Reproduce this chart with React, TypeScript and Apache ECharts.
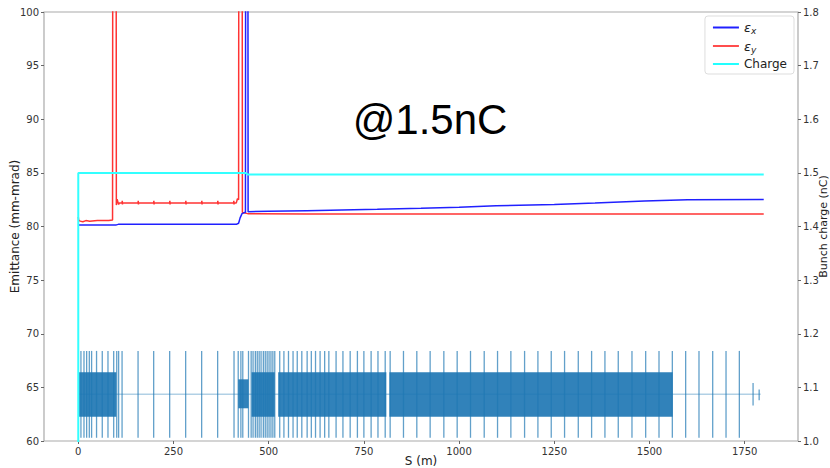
import React, { useEffect, useRef } from "react";
import * as echarts from "echarts";

// ---- data ----
const xTickValues = [0, 250, 500, 750, 1000, 1250, 1500, 1750];

const emitX: [number, number][] = [
  [0, 80.15], [100, 80.15], [105, 80.2], [415, 80.2], [421, 80.3], [425, 80.8],
  [430, 81.2], [436, 81.3], [439, 81.3], [440, 130], [445, 130], [446, 81.38],
  [500, 81.42], [600, 81.48], [785, 81.6], [900, 81.7], [1000, 81.8], [1097, 81.94],
  [1250, 82.05], [1357, 82.19], [1487, 82.38], [1600, 82.5], [1800, 82.52],
];

const emitY: [number, number][] = [
  [0, 80.9], [1, 80.6], [5, 80.5], [12, 80.45], [20, 80.55], [30, 80.5], [50, 80.55],
  [80, 80.55], [90, 80.6], [91, 130], [99, 130], [100, 82.0], [102, 82.55], [104, 82.3],
  [106, 82.05], [108, 82.2],
  [115, 82.2], [115.5, 82.4], [116, 82.05], [116.5, 82.2],
  [157, 82.2], [157.5, 82.4], [158, 82.05], [158.5, 82.2],
  [198, 82.2], [198.5, 82.4], [199, 82.05], [199.5, 82.2],
  [240, 82.2], [240.5, 82.4], [241, 82.05], [241.5, 82.2],
  [282, 82.2], [282.5, 82.4], [283, 82.05], [283.5, 82.2],
  [324, 82.2], [324.5, 82.4], [325, 82.05], [325.5, 82.2],
  [366, 82.2], [366.5, 82.4], [367, 82.05], [367.5, 82.2],
  [408, 82.2], [408.5, 82.4], [409, 82.05], [409.5, 82.2],
  [415, 82.2], [418, 82.6], [421, 82.5], [422, 130], [430, 130], [431, 81.3],
  [445, 81.2], [600, 81.16], [1800, 81.16],
];

const charge: [number, number][] = [
  [0, 0.9], [0, 1.5], [440, 1.5], [444, 1.497], [1800, 1.497],
];

// lattice: quadrupole positions (m), cavity blocks [start, end, low, high]
const quadPositions = [
  7, 15, 22, 29, 35, 48, 63, 78, 93, 101, 106, 115, 157, 198, 240, 282, 324, 366, 409,
  420, 427, 432, 447, 454, 459, 465, 470, 475, 480, 486, 491, 496, 501, 506, 511, 516,
  529, 540, 552, 564, 575, 587, 601, 612, 623, 635, 647, 658, 677, 695, 714, 733, 750,
  769, 787, 806, 819, 854, 889, 924, 960, 995, 1030, 1066, 1101, 1136, 1172, 1207, 1242,
  1277, 1313, 1348, 1383, 1418, 1454, 1490, 1525, 1560, 1595, 1630, 1666, 1701, 1736,
];
const quadLow = 60.3;
const quadHigh = 68.4;
const cavityBlocks: [number, number, number, number][] = [
  [2, 100, 62.27, 66.4],
  [420, 447, 63.05, 65.75],
  [455, 516, 62.27, 66.4],
  [525, 809, 62.27, 66.4],
  [817, 1561, 62.27, 66.4],
];
const endMarks: [number, number, number][] = [
  [1772, 63.3, 65.4],
  [1788, 63.8, 64.8],
];
const baseline: [number, number][] = [[0, 64.35], [1792, 64.35]];

export default function App() {
  const ref = useRef<HTMLDivElement>(null);
  useEffect(() => {
    document.body.style.margin = "0";
    const chart = echarts.init(ref.current!, null, { renderer: "svg" });
    const font = "DejaVu Sans";
    const quadData = quadPositions.map((p) => [p, quadLow, quadHigh]);
    const lineMarks = quadData.concat(endMarks.map((m) => [m[0], m[1], m[2]]));
    chart.setOption({
      animation: false,
      backgroundColor: "#ffffff",
      textStyle: { fontFamily: font },
      grid: {
        left: 44, right: 32, top: 12, bottom: 27,
        containLabel: false, outerBoundsMode: "none",
        show: true, borderColor: "#aaaaaa", borderWidth: 1.2,
      },
      legend: {
        data: ["εx", "εy", "Charge"],
        orient: "vertical",
        right: 36, top: 16,
        icon: "rect", itemWidth: 26, itemHeight: 2, itemGap: 4,
        padding: [5, 7, 4, 8],
        borderColor: "#dddddd", borderWidth: 1, borderRadius: 3,
        backgroundColor: "rgba(255,255,255,0.8)",
        textStyle: {
          fontFamily: font, fontSize: 12, color: "#222",
          rich: {
            e: { fontFamily: font, fontStyle: "italic", fontSize: 13, color: "#222" },
            s: { fontFamily: font, fontStyle: "italic", fontSize: 9, color: "#222", padding: [7, 0, 0, 0] },
          },
        },
        formatter: (name: string) =>
          name === "Charge" ? name : `{e|ε}{s|${name.slice(1)}}`,
      },
      xAxis: {
        type: "value", min: -90, max: 1890,
        name: "S (m)", nameLocation: "middle", nameGap: 14, nameMoveOverlap: false,
        nameTextStyle: { fontFamily: font, fontSize: 12, color: "#222" },
        splitLine: { show: false },
        axisLine: { show: false, onZero: false },
        axisTick: { show: true, customValues: xTickValues, length: 3, lineStyle: { color: "#666" } },
        axisLabel: {
          customValues: xTickValues, fontSize: 10, color: "#333", margin: 5,
          formatter: (v: number) => String(v),
        },
      },
      yAxis: [
        {
          type: "value", min: 60, max: 100, interval: 5,
          name: "Emittance (mm-mrad)", nameLocation: "middle", nameGap: 23, nameMoveOverlap: false,
          nameTextStyle: { fontFamily: font, fontSize: 12, color: "#222" },
          splitLine: { show: false }, axisLine: { show: false, onZero: false },
          axisTick: { show: true, length: 3, lineStyle: { color: "#666" } },
          axisLabel: { fontSize: 10, color: "#333", margin: 5 },
        },
        {
          type: "value", min: 1.0, max: 1.8, interval: 0.1, position: "right",
          name: "Bunch charge (nC)", nameLocation: "middle", nameGap: 20, nameRotate: 90,
          nameMoveOverlap: false,
          nameTextStyle: { fontFamily: font, fontSize: 11, color: "#222" },
          splitLine: { show: false }, axisLine: { show: false, onZero: false },
          axisTick: { show: true, length: 3, lineStyle: { color: "#666" } },
          axisLabel: { fontSize: 10, color: "#333", margin: 5, formatter: (v: number) => v.toFixed(1) },
        },
      ],
      graphic: [
        {
          type: "text", x: 430, y: 119, z: 100,
          style: {
            text: "@1.5nC", font: "42px 'Liberation Sans'", fill: "#000",
            textAlign: "center", textVerticalAlign: "middle",
          },
        },
      ],
      series: [
        {
          name: "lattice-base", type: "line", data: baseline, yAxisIndex: 0,
          symbol: "none", lineStyle: { color: "#1f77b4", width: 1.5, opacity: 0.35 }, silent: true, z: 1,
        },
        {
          name: "cavities", type: "custom", yAxisIndex: 0, data: cavityBlocks, z: 1,
          encode: { x: [0, 1], y: [2, 3] },
          renderItem: (params: any, api: any) => {
            const a = api.coord([api.value(0), api.value(3)]);
            const b = api.coord([api.value(1), api.value(2)]);
            return {
              type: "rect",
              shape: { x: a[0], y: a[1], width: b[0] - a[0], height: b[1] - a[1] },
              style: { fill: "#1f77b4", opacity: 0.92 },
            };
          },
        },
        {
          name: "quads", type: "custom", yAxisIndex: 0, data: lineMarks, z: 2,
          encode: { x: 0, y: [1, 2] },
          renderItem: (params: any, api: any) => {
            const a = api.coord([api.value(0), api.value(1)]);
            const b = api.coord([api.value(0), api.value(2)]);
            return {
              type: "line",
              shape: { x1: a[0], y1: a[1], x2: b[0], y2: b[1] },
              style: { stroke: "#1f77b4", lineWidth: 1.3, opacity: 0.7 },
            };
          },
        },
        {
          name: "εy", type: "line", data: emitY, yAxisIndex: 0, symbol: "none",
          color: "#ff4d4d", lineStyle: { color: "#ff3333", width: 1.5 }, z: 3,
        },
        {
          name: "εx", type: "line", data: emitX, yAxisIndex: 0, symbol: "none",
          color: "#2020ff", lineStyle: { color: "#2020ff", width: 1.5 }, z: 4,
        },
        {
          name: "Charge", type: "line", data: charge, yAxisIndex: 1, symbol: "none",
          color: "#22ffff", lineStyle: { color: "#33ffff", width: 2 }, z: 5,
        },
      ],
    });
    return () => chart.dispose();
  }, []);
  return <div ref={ref} style={{ width: 830, height: 468 }} />;
}
